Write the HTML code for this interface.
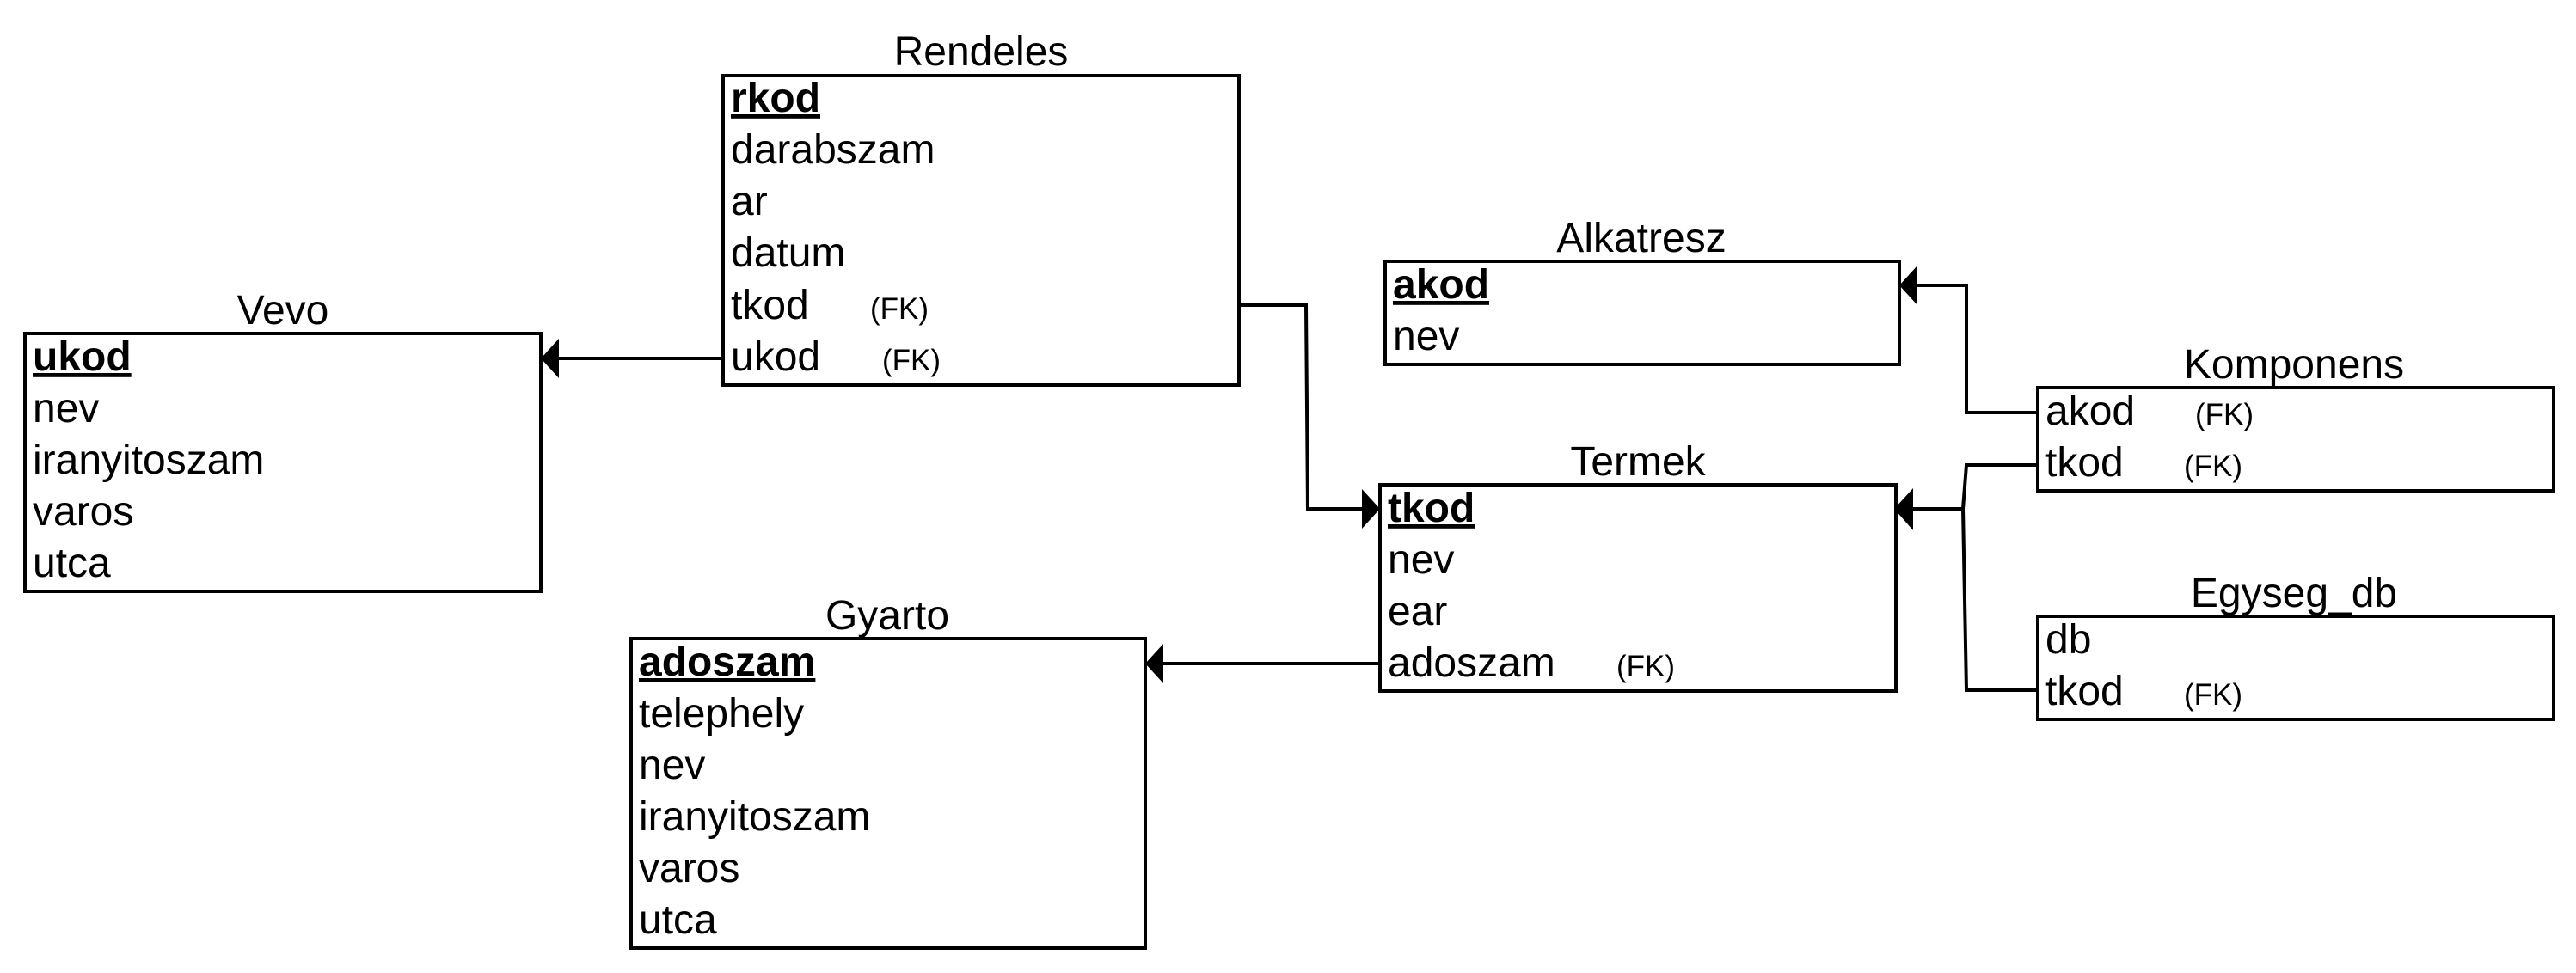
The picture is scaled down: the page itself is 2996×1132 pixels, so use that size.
<!DOCTYPE html>
<html><head><meta charset="utf-8"><style>
html,body{margin:0;padding:0;background:#fff;}
svg{display:block;}
text{font-family:"Liberation Sans",Arial,sans-serif;fill:#000;}
.f{font-size:48px;}
.k{font-size:48px;font-weight:bold;text-decoration:underline;}
.fk{font-size:35px;}
.t{font-size:48px;text-anchor:middle;}
rect{fill:#fff;stroke:#000;stroke-width:4;}
.l{fill:none;stroke:#000;stroke-width:4;}
</style></head><body>
<svg width="2996" height="1132" viewBox="0 0 2996 1132" xmlns="http://www.w3.org/2000/svg">
<polyline class="l" points="841,417 640,417"/>
<polygon points="629,417 650,394 650,440"/>
<polyline class="l" points="1441,355 1519,355 1521,592 1594,592"/>
<polygon points="1605,592 1584,569 1584,615"/>
<polyline class="l" points="1605,772 1343,772"/>
<polygon points="1332,772 1353,749 1353,795"/>
<polyline class="l" points="2370,480 2287,480 2287,332 2220,332"/>
<polygon points="2209,332 2230,309 2230,355"/>
<polyline class="l" points="2370,541 2287,541 2283,592 2216,592"/>
<polygon points="2203,592 2225,568 2225,617"/>
<polyline class="l" points="2370,803 2287,803 2283,592"/>

<text class="t" x="1141" y="76">Rendeles</text>
<rect x="841" y="88" width="600" height="360"/>
<text class="k" x="850" y="130">rkod</text>
<text class="f" x="850" y="190">darabszam</text>
<text class="f" x="850" y="250">ar</text>
<text class="f" x="850" y="310">datum</text>
<text class="f" x="850" y="371">tkod</text><text class="fk" x="1012" y="371">(FK)</text>
<text class="f" x="850" y="431">ukod</text><text class="fk" x="1026" y="431">(FK)</text>

<text class="t" x="329" y="377">Vevo</text>
<rect x="29" y="388" width="600" height="300"/>
<text class="k" x="38" y="431">ukod</text>
<text class="f" x="38" y="491">nev</text>
<text class="f" x="38" y="551">iranyitoszam</text>
<text class="f" x="38" y="611">varos</text>
<text class="f" x="38" y="671">utca</text>

<text class="t" x="1909" y="293">Alkatresz</text>
<rect x="1611" y="304" width="598" height="120"/>
<text class="k" x="1620" y="347">akod</text>
<text class="f" x="1620" y="407">nev</text>

<text class="t" x="1905" y="553">Termek</text>
<rect x="1605" y="564" width="600" height="240"/>
<text class="k" x="1614" y="607">tkod</text>
<text class="f" x="1614" y="667">nev</text>
<text class="f" x="1614" y="727">ear</text>
<text class="f" x="1614" y="787">adoszam</text><text class="fk" x="1880" y="787">(FK)</text>

<text class="t" x="1032" y="732">Gyarto</text>
<rect x="734" y="743" width="598" height="360"/>
<text class="k" x="743" y="786">adoszam</text>
<text class="f" x="743" y="846">telephely</text>
<text class="f" x="743" y="906">nev</text>
<text class="f" x="743" y="966">iranyitoszam</text>
<text class="f" x="743" y="1026">varos</text>
<text class="f" x="743" y="1086">utca</text>

<text class="t" x="2668" y="440">Komponens</text>
<rect x="2370" y="451" width="600" height="120"/>
<text class="f" x="2379" y="494">akod</text><text class="fk" x="2553" y="494">(FK)</text>
<text class="f" x="2379" y="554">tkod</text><text class="fk" x="2540" y="554">(FK)</text>

<text class="t" x="2668" y="706">Egyseg_db</text>
<rect x="2370" y="717" width="600" height="120"/>
<text class="f" x="2379" y="760">db</text>
<text class="f" x="2379" y="820">tkod</text><text class="fk" x="2540" y="820">(FK)</text>
</svg>
</body></html>
